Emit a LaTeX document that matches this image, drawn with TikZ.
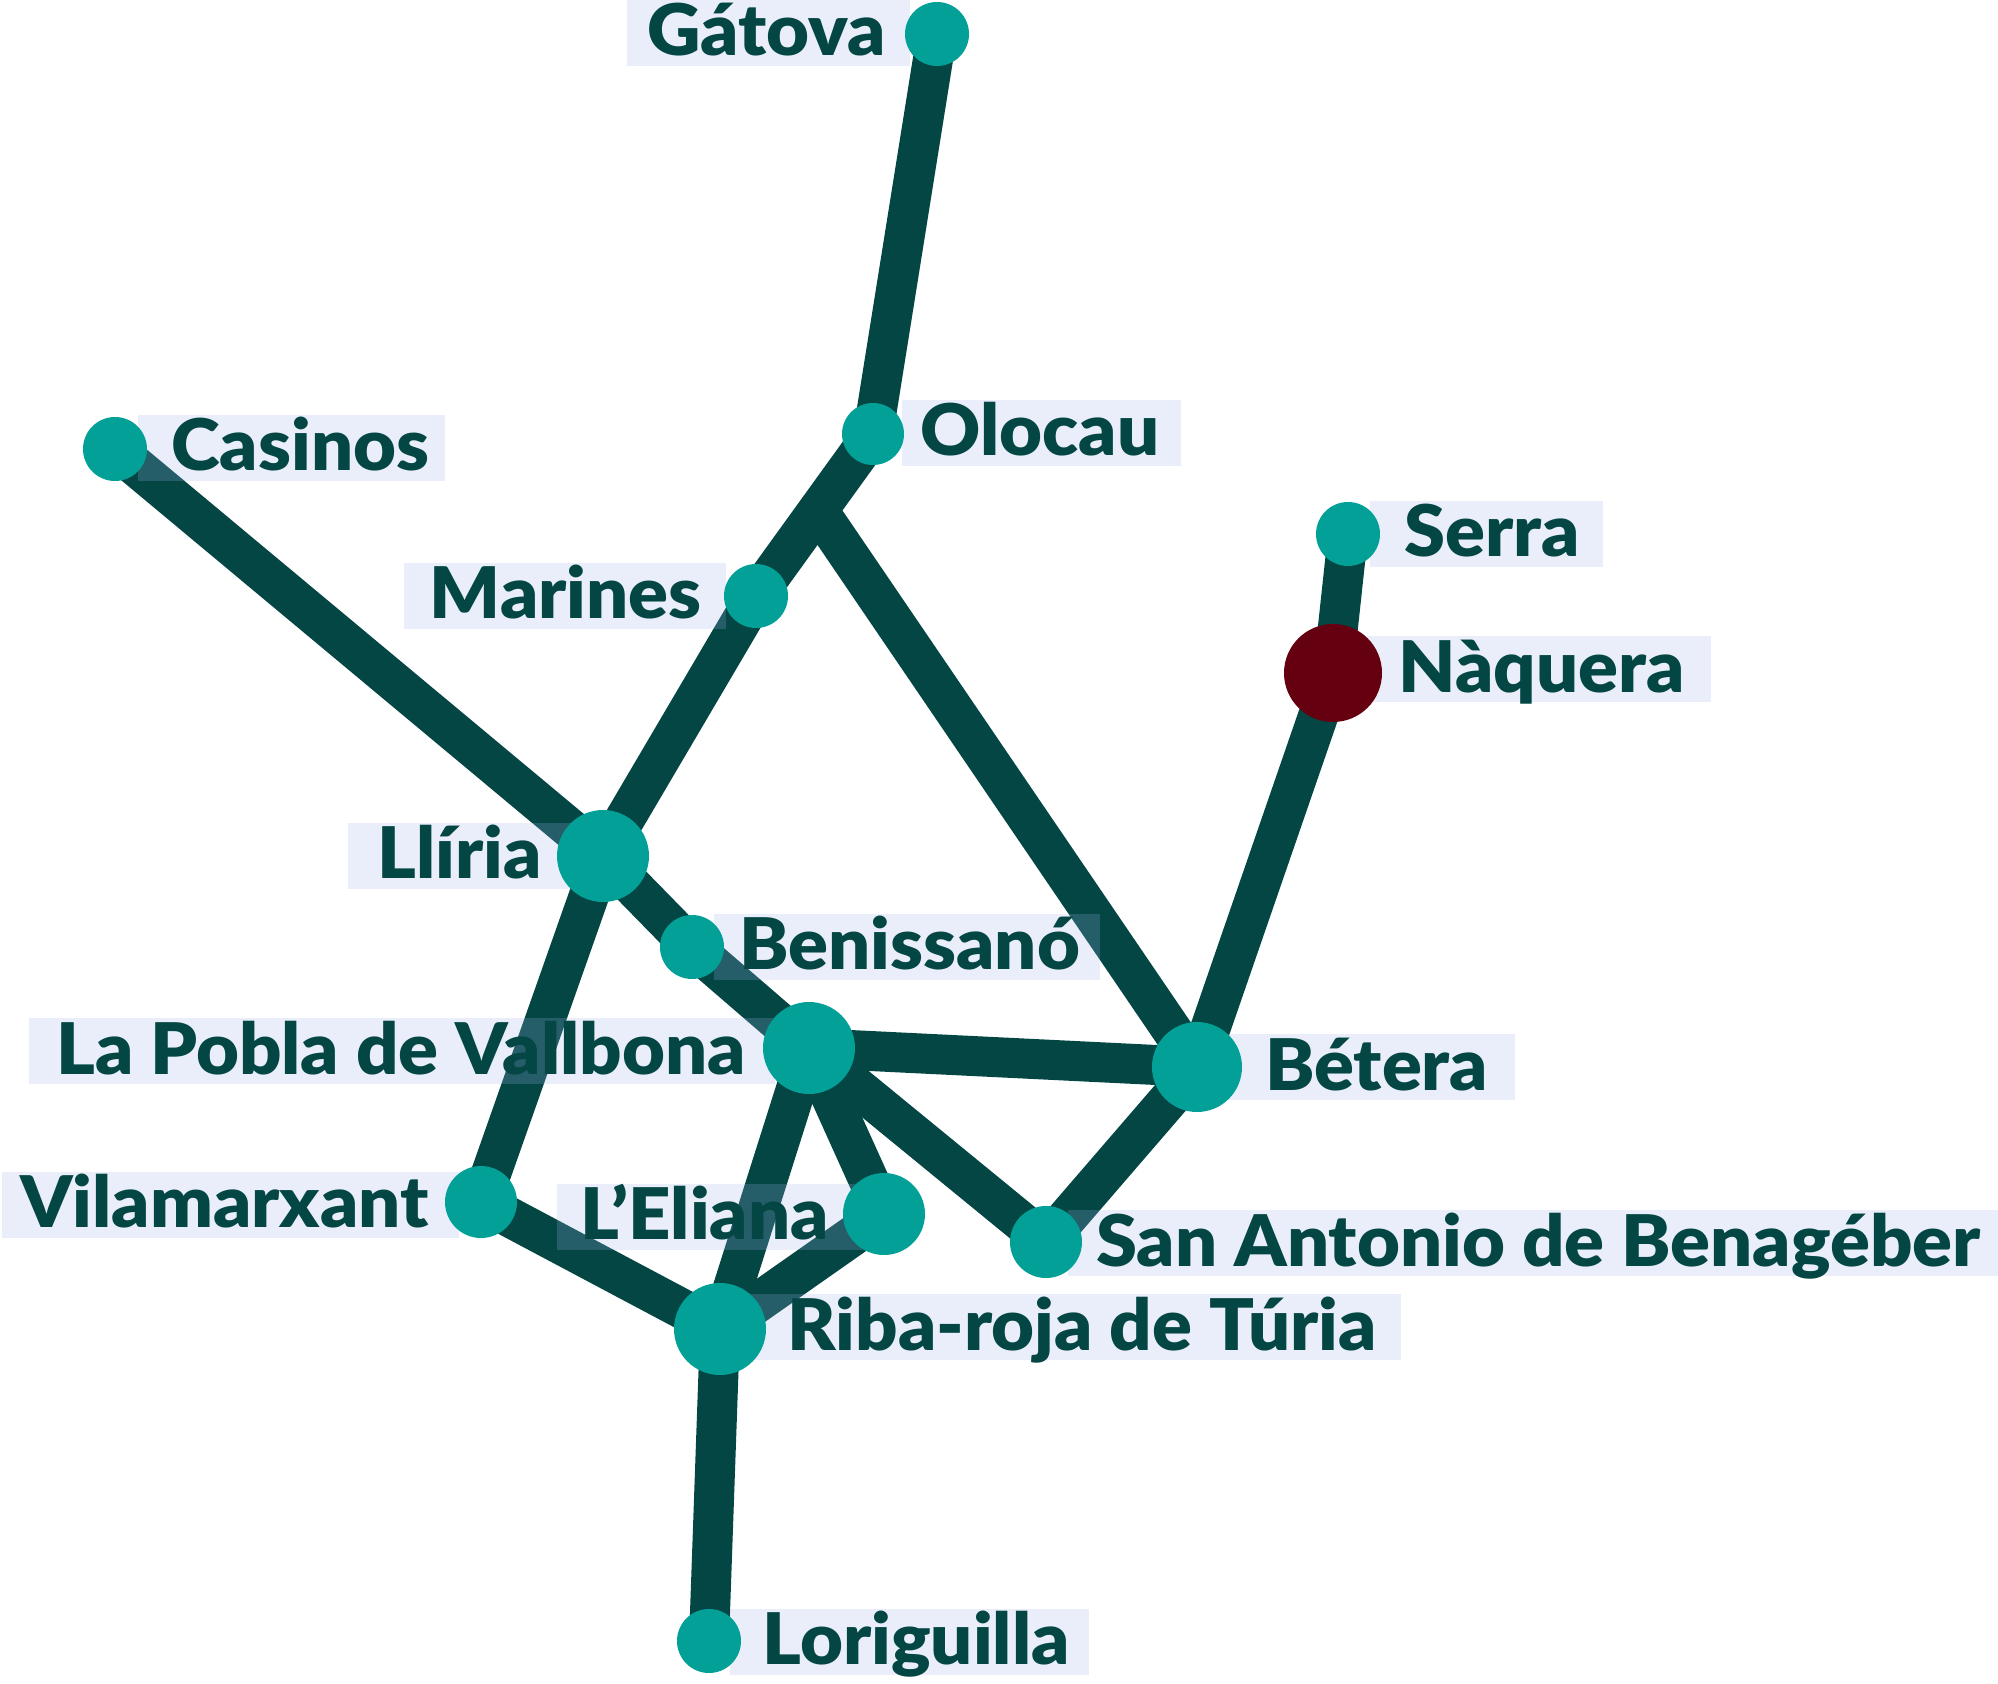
\documentclass[tikz,border=0pt]{standalone}
\usepackage{fontspec}
\setmainfont{Lato}[BoldFont={Lato Black},BoldFeatures={FakeStretch=1.04}]
\usetikzlibrary{calc}
\pgfdeclarelayer{lines}
\pgfdeclarelayer{labels}
\pgfsetlayers{lines,labels,main}
\definecolor{linecol}{RGB}{3,70,68}
\definecolor{stncol}{RGB}{3,160,152}
\definecolor{hubcol}{RGB}{101,0,16}
\definecolor{boxcol}{RGB}{160,178,232}
\begin{document}
\begin{tikzpicture}[x=0.5pt,y=-0.5pt,
  stn/.style={circle,fill=stncol,inner sep=0pt,minimum size=#1},
  conn/.style={draw=linecol,line width=20pt},
  lab/.style={fill=boxcol,fill opacity=0.22,text opacity=1,text=linecol,
    inner xsep=0pt,inner ysep=0pt,text height=28pt,text depth=5pt,
    font=\fontsize{35.6}{40}\selectfont\bfseries}]
\useasboundingbox (0,0) rectangle (1998,1684);

% stations
\node[stn=32pt] (gatova) at (937,34) {};
\node[stn=31pt] (olocau) at (873,434) {};
\node[stn=32pt] (casinos) at (115,449) {};
\node[stn=32pt] (marines) at (756,596) {};
\node[stn=32pt] (serra) at (1348,534) {};
\node[stn=49pt,fill=hubcol] (naquera) at (1333,673) {};
\node[stn=46pt] (lliria) at (603,856) {};
\node[stn=32pt] (benissano) at (692,947) {};
\node[stn=46pt] (pobla) at (809,1048) {};
\node[stn=45pt] (betera) at (1197,1067) {};
\node[stn=36pt] (vilamarxant) at (481,1202) {};
\node[stn=41pt] (eliana) at (884,1214) {};
\node[stn=36pt] (sanantonio) at (1046,1242) {};
\node[stn=46pt] (ribaroja) at (720,1329) {};
\node[stn=32pt] (loriguilla) at (709,1641) {};
\coordinate (J) at ($(olocau.center)!0.47!(marines.center)$);

% connectors
\begin{pgfonlayer}{lines}
\draw[conn] (gatova.center) -- (olocau.center);
\draw[conn] (olocau.center) -- (J) -- (marines.center);
\draw[conn] (J) -- (betera.center);
\draw[conn] (marines.center) -- (lliria.center);
\draw[conn] (casinos.center) -- (lliria.center);
\draw[conn] (lliria.center) -- (benissano.center);
\draw[conn] (benissano.center) -- (pobla.center);
\draw[conn] (lliria.center) -- (vilamarxant.center);
\draw[conn] (vilamarxant.center) -- (ribaroja.center);
\draw[conn] (pobla.center) -- (ribaroja.center);
\draw[conn] (pobla.center) -- (eliana.center);
\draw[conn] (eliana.center) -- (ribaroja.center);
\draw[conn] (pobla.center) -- (sanantonio.center);
\draw[conn] (pobla.center) -- (betera.center);
\draw[conn] (betera.center) -- (sanantonio.center);
\draw[conn] (betera.center) -- (naquera.center);
\draw[conn] (naquera.center) -- (serra.center);
\draw[conn] (ribaroja.center) -- (loriguilla.center);
\end{pgfonlayer}

% labels
\begin{pgfonlayer}{labels}
\node[lab,anchor=east] (gatovaL) at (910,33) {\hspace*{10pt}Gátova\hspace*{12pt}};
\node[lab,anchor=west] (olocauL) at (902,433) {\hspace*{9pt}Olocau\hspace*{11pt}};
\node[lab,anchor=west] (casinosL) at (138,448) {\hspace*{16.5pt}Casinos\hspace*{8pt}};
\node[lab,anchor=east] (marinesL) at (726,596) {\hspace*{13pt}Marines\hspace*{12pt}};
\node[lab,anchor=west] (serraL) at (1370,534) {\hspace*{17pt}Serra\hspace*{11.5pt}};
\node[lab,anchor=west] (naqueraL) at (1354,669.5) {\hspace*{22pt}Nàquera\hspace*{13.5pt}};
\node[lab,anchor=east] (lliriaL) at (576,855.5) {\hspace*{14.5pt}Llíria\hspace*{17pt}};
\node[lab,anchor=west] (benissanoL) at (714,946.5) {\hspace*{12.5pt}Benissanó\hspace*{10pt}};
\node[lab,anchor=east] (poblaL) at (775,1051) {\hspace*{13.5pt}La Pobla de Vallbona\hspace*{14.5pt}};
\node[lab,anchor=west] (beteraL) at (1217,1067) {\hspace*{24pt}Bétera\hspace*{13.5pt}};
\node[lab,anchor=east] (vilamarxantL) at (459,1204.5) {\hspace*{9pt}Vilamarxant\hspace*{15pt}};
\node[lab,anchor=east] (elianaL) at (863,1216.5) {\hspace*{11.5pt}L’Eliana\hspace*{17pt}};
\node[lab,anchor=west] (sanantonioL) at (1068,1243) {\hspace*{14pt}San Antonio de Benagéber\hspace*{9.5pt}};
\node[lab,anchor=west] (ribarojaL) at (743,1327) {\hspace*{22pt}Riba-roja de Túria\hspace*{12pt}};
\node[lab,anchor=west] (loriguillaL) at (730,1641.5) {\hspace*{16pt}Loriguilla\hspace*{9.5pt}};
\end{pgfonlayer}
\end{tikzpicture}
\end{document}
